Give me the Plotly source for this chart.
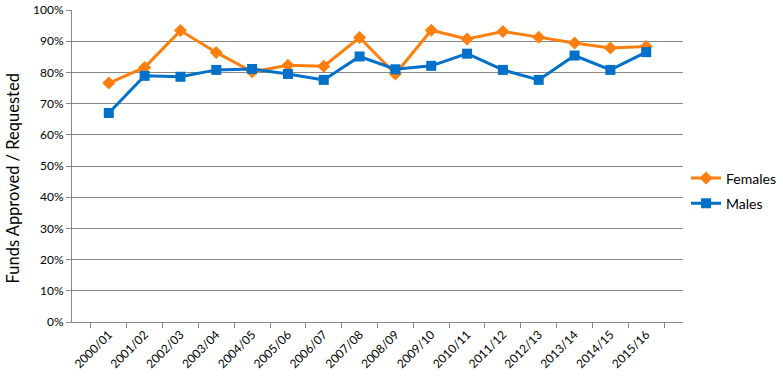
import plotly.graph_objects as go

years = ["2000/01", "2001/02", "2002/03", "2003/04", "2004/05", "2005/06", "2006/07", "2007/08",
         "2008/09", "2009/10", "2010/11", "2011/12", "2012/13", "2013/14", "2014/15", "2015/16"]
females = [0.766, 0.816, 0.934, 0.864, 0.802, 0.823, 0.820, 0.912,
           0.795, 0.935, 0.907, 0.931, 0.913, 0.894, 0.878, 0.883]
males = [0.670, 0.789, 0.786, 0.808, 0.811, 0.795, 0.776, 0.851,
         0.810, 0.821, 0.860, 0.808, 0.776, 0.854, 0.808, 0.865]

fig = go.Figure()
fig.add_trace(go.Scatter(x=years, y=females, name="Females", mode="lines+markers",
                         legendgroup="f",
                         line=dict(color="#FF7F0E", width=3),
                         marker=dict(symbol="diamond", size=10, color="#FF7F0E")))
fig.add_trace(go.Scatter(x=years, y=males, name="Males", mode="lines+markers",
                         legendgroup="m",
                         line=dict(color="#0070C8", width=3),
                         marker=dict(symbol="square", size=10, color="#0070C8")))

font = "Lato, 'Open Sans', sans-serif"
fig.update_layout(
    width=783, height=384,
    margin=dict(l=72, r=100, t=10, b=62, autoexpand=False),
    paper_bgcolor="white", plot_bgcolor="white",
    font=dict(family=font, size=12, color="black"),
    showlegend=True,
    legend=dict(x=1.005, y=0.42, xanchor="left", yanchor="middle",
                font=dict(size=14), itemwidth=30, tracegroupgap=4),
    xaxis=dict(type="category", tickangle=-45, tickson="boundaries",
               ticks="outside", ticklen=5, tickcolor="#888",
               showline=True, linecolor="#888", linewidth=1,
               showgrid=False, tickfont=dict(size=12), automargin=False),
    yaxis=dict(range=[0, 1], tickformat=".0%", dtick=0.1,
               showgrid=True, gridcolor="#888", gridwidth=1,
               ticks="outside", ticklen=5, tickcolor="#888",
               showline=True, linecolor="#888", linewidth=1,
               zeroline=False, automargin=False,
               tickfont=dict(size=12)),
    annotations=[dict(text="Funds Approved / Requested", xref="paper", yref="paper",
                      x=-0.095, y=0.46, xanchor="center", yanchor="middle",
                      textangle=-90, showarrow=False, font=dict(size=16.5))],
)
fig.write_html("out.html", config={"displayModeBar": False},
               post_script="document.body.style.margin='0';document.body.style.padding='0';")
